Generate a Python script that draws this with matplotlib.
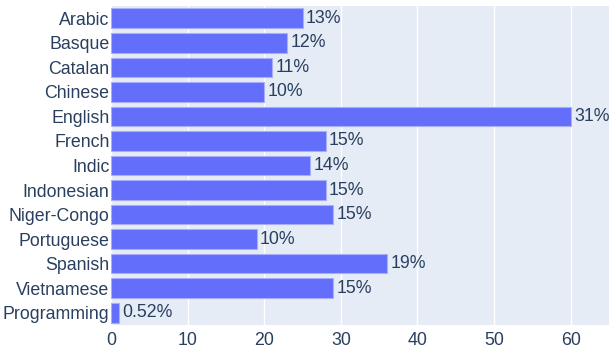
import matplotlib
matplotlib.use("Agg")
import matplotlib.pyplot as plt

plt.rcParams['font.family'] = ['Liberation Sans', 'DejaVu Sans']

languages = ['Arabic', 'Basque', 'Catalan', 'Chinese', 'English', 'French', 'Indic',
             'Indonesian', 'Niger-Congo', 'Portuguese', 'Spanish', 'Vietnamese', 'Programming']
values = [25, 23, 21, 20, 60, 28, 26, 28, 29, 19, 36, 29, 1]
labels = ['13%', '12%', '11%', '10%', '31%', '15%', '14%', '15%', '15%', '10%', '19%', '15%', '0.52%']

text_color = '#2a3f5f'

fig = plt.figure(figsize=(6.09, 3.57), dpi=100)
ax = fig.add_axes([111 / 609, 32 / 357, 498 / 609, 319 / 357])
ax.set_facecolor('#e5ecf6')

ypos = list(range(len(languages)))
ax.barh(ypos, values, height=0.8, color='#636efa', edgecolor='#a9aefc', linewidth=0.8, zorder=2)

for y, v, lab in zip(ypos, values, labels):
    ax.annotate(lab, (v, y), xytext=(2.5, 0), textcoords='offset points',
                ha='left', va='center', fontsize=12.8, color=text_color, zorder=3)

ax.set_xlim(0, 65)
ax.set_ylim(len(languages) - 0.5, -0.5)
ax.set_yticks(ypos)
ax.set_yticklabels(languages)
ax.set_xticks([0, 10, 20, 30, 40, 50, 60])
ax.tick_params(length=0, labelsize=12.8, colors=text_color, pad=1)
ax.tick_params(axis='x', pad=5)
ax.grid(axis='x', color='white', linewidth=1, zorder=1)
for s in ax.spines.values():
    s.set_visible(False)

fig.savefig('out.png', dpi=100)
